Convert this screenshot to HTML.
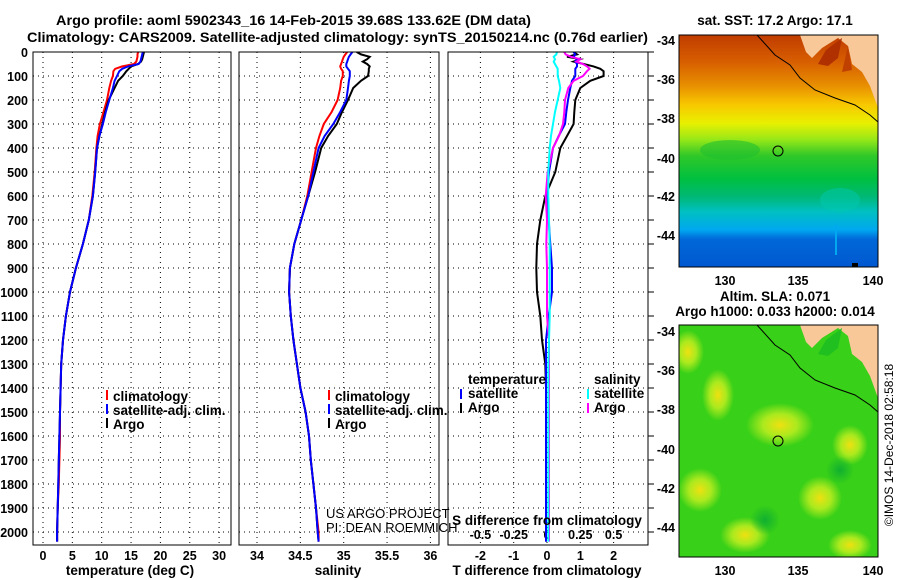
<!DOCTYPE html>
<html><head><meta charset="utf-8"><style>
html,body{margin:0;padding:0;background:#fff;}
svg{display:block;font-family:"Liberation Sans",Arial,sans-serif;}
.t{font-weight:bold;font-size:13.5px;fill:#000;}
.k{font-weight:bold;font-size:12.5px;fill:#000;}
.g{stroke:#000;stroke-width:1;stroke-dasharray:1 4;}
</style></head><body>
<svg id="chart" width="900" height="580" viewBox="0 0 900 580">
<defs>
<linearGradient id="sst" x1="0" y1="0" x2="0" y2="1">
<stop offset="0" stop-color="#c03c00"/><stop offset="0.12" stop-color="#d86000"/>
<stop offset="0.22" stop-color="#e89000"/><stop offset="0.30" stop-color="#f8c800"/>
<stop offset="0.38" stop-color="#e8f000"/><stop offset="0.45" stop-color="#98e818"/>
<stop offset="0.52" stop-color="#30c828"/><stop offset="0.62" stop-color="#00c040"/>
<stop offset="0.70" stop-color="#00b878"/><stop offset="0.76" stop-color="#00c0c0"/>
<stop offset="0.84" stop-color="#00a8f0"/><stop offset="0.88" stop-color="#0068d8"/>
<stop offset="1" stop-color="#0058d0"/></linearGradient>
<radialGradient id="yb"><stop offset="0" stop-color="#f0e010"/><stop offset="0.5" stop-color="#c8f020" stop-opacity="0.8"/><stop offset="1" stop-color="#c8f020" stop-opacity="0"/></radialGradient>
<radialGradient id="db"><stop offset="0" stop-color="#10b030"/><stop offset="1" stop-color="#10b030" stop-opacity="0"/></radialGradient>
<clipPath id="c1"><rect x="33" y="52" width="198" height="493"/></clipPath>
<clipPath id="c2"><rect x="239" y="52" width="200" height="493"/></clipPath>
<clipPath id="c3"><rect x="448" y="52" width="200" height="493"/></clipPath>
<clipPath id="m2"><rect x="679" y="325" width="199" height="232"/></clipPath>
</defs>

<text class="t" x="56" y="25" textLength="475" lengthAdjust="spacingAndGlyphs">Argo profile: aoml 5902343_16 14-Feb-2015 39.68S 133.62E (DM data)</text>
<text class="t" x="27" y="42" textLength="621" lengthAdjust="spacingAndGlyphs">Climatology: CARS2009. Satellite-adjusted climatology: synTS_20150214.nc (0.76d earlier)</text>

<g id="grid"></g>
<g id="marks"></g>

<rect x="33" y="52" width="198" height="493" fill="none" stroke="#000"/>
<rect x="239" y="52" width="200" height="493" fill="none" stroke="#000"/>
<rect x="448" y="52" width="200" height="493" fill="none" stroke="#000"/>

<text class="t" x="130" y="575" text-anchor="middle">temperature (deg C)</text>
<text class="t" x="338" y="575" text-anchor="middle">salinity</text>
<text class="t" x="547" y="575" text-anchor="middle">T difference from climatology</text>
<text class="t" x="547" y="525" text-anchor="middle">S difference from climatology</text>

<g>
<rect x="106" y="390" width="2" height="10" fill="#f00"/><text class="t" x="113" y="401">climatology</text>
<rect x="106" y="404" width="2" height="10" fill="#00f"/><text class="t" x="113" y="415">satellite-adj. clim.</text>
<rect x="106" y="418" width="2" height="10" fill="#000"/><text class="t" x="113" y="429">Argo</text>
</g>
<g>
<rect x="328" y="390" width="2" height="10" fill="#f00"/><text class="t" x="335" y="401">climatology</text>
<rect x="328" y="404" width="2" height="10" fill="#00f"/><text class="t" x="335" y="415">satellite-adj. clim.</text>
<rect x="328" y="418" width="2" height="10" fill="#000"/><text class="t" x="335" y="429">Argo</text>
</g>
<g>
<text class="t" x="468" y="384">temperature</text>
<rect x="460" y="389" width="2" height="10" fill="#00f"/><text class="t" x="468" y="398">satellite</text>
<rect x="460" y="403" width="2" height="10" fill="#000"/><text class="t" x="468" y="412">Argo</text>
<text class="t" x="594" y="384">salinity</text>
<rect x="587" y="389" width="2" height="10" fill="#0ff"/><text class="t" x="594" y="398">satellite</text>
<rect x="587" y="403" width="2" height="10" fill="#f0f"/><text class="t" x="594" y="412">Argo</text>
</g>
<text x="326" y="518" font-size="13" fill="#000">US ARGO PROJECT</text>
<text x="326" y="532" font-size="13" fill="#000">PI: DEAN ROEMMICH</text>

<!-- top map -->
<g>
<text class="t" x="775" y="25" text-anchor="middle">sat. SST: 17.2 Argo: 17.1</text>
<rect x="679" y="35" width="199" height="232" fill="url(#sst)"/>
<ellipse cx="730" cy="150" rx="30" ry="10" fill="#20c030" opacity="0.6"/>
<ellipse cx="840" cy="200" rx="20" ry="12" fill="#00c8b0" opacity="0.5"/>
<rect x="835" y="225" width="2" height="30" fill="#00a8f0"/>
<polygon points="800,35 806,52 812,58 822,48 838,38 848,46 852,64 862,72 870,86 878,108 878,35" fill="#f8c898"/>
<polygon points="818,64 826,50 842,38 838,58 828,66" fill="#b03000"/>
<polygon points="842,72 848,46 852,70" fill="#c04000"/>
<polyline points="757,35 775,55 790,65 800,78 815,90 835,98 855,105 870,115 878,122" fill="none" stroke="#000"/>
<rect x="852" y="263" width="6" height="4" fill="#000"/>
<circle cx="778" cy="151" r="5" fill="none" stroke="#000"/>
<rect x="679" y="35" width="199" height="232" fill="none" stroke="#000"/>
</g>
<g class="k">
<text x="675" y="45" text-anchor="end">-34</text><text x="675" y="84" text-anchor="end">-36</text>
<text x="675" y="123" text-anchor="end">-38</text><text x="675" y="163" text-anchor="end">-40</text>
<text x="675" y="201" text-anchor="end">-42</text><text x="675" y="240" text-anchor="end">-44</text>
<text x="725" y="285" text-anchor="middle">130</text><text x="798" y="285" text-anchor="middle">135</text><text x="873" y="285" text-anchor="middle">140</text>
</g>

<!-- bottom map -->
<g>
<text class="t" x="775" y="301" text-anchor="middle">Altim. SLA: 0.071</text>
<text class="t" x="775" y="316" text-anchor="middle">Argo h1000: 0.033 h2000: 0.014</text>
<g clip-path="url(#m2)">
<rect x="679" y="325" width="199" height="232" fill="#38d018"/>
<ellipse cx="688" cy="352" rx="16" ry="22" fill="url(#yb)"/>
<ellipse cx="718" cy="395" rx="16" ry="26" fill="url(#yb)"/>
<ellipse cx="780" cy="425" rx="34" ry="22" fill="url(#yb)"/>
<ellipse cx="850" cy="445" rx="18" ry="20" fill="url(#yb)"/>
<ellipse cx="700" cy="490" rx="22" ry="22" fill="url(#yb)"/>
<ellipse cx="820" cy="498" rx="22" ry="22" fill="url(#yb)"/>
<ellipse cx="745" cy="535" rx="25" ry="18" fill="url(#yb)"/>
<ellipse cx="850" cy="545" rx="22" ry="15" fill="url(#yb)"/>
<ellipse cx="765" cy="520" rx="15" ry="15" fill="url(#db)"/>
<ellipse cx="840" cy="470" rx="14" ry="14" fill="url(#db)"/>
<polygon points="800,325 806,342 812,348 822,338 838,328 848,336 852,354 862,362 870,376 878,398 878,325" fill="#f8c898"/>
<polygon points="818,354 826,340 842,328 838,348 828,356" fill="#20c020"/>
<polyline points="757,325 775,345 790,355 800,368 815,380 835,388 855,395 870,405 878,412" fill="none" stroke="#000"/>
</g>
<circle cx="778" cy="441" r="5" fill="none" stroke="#000"/>
<rect x="679" y="325" width="199" height="232" fill="none" stroke="#000"/>
</g>
<g class="k">
<text x="675" y="336" text-anchor="end">-34</text><text x="675" y="375" text-anchor="end">-36</text>
<text x="675" y="414" text-anchor="end">-38</text><text x="675" y="454" text-anchor="end">-40</text>
<text x="675" y="493" text-anchor="end">-42</text><text x="675" y="532" text-anchor="end">-44</text>
<text x="725" y="575" text-anchor="middle">130</text><text x="798" y="575" text-anchor="middle">135</text><text x="873" y="575" text-anchor="middle">140</text>
</g>
<text x="893" y="445" font-size="12" fill="#000" text-anchor="middle" transform="rotate(-90 893 445)">©IMOS 14-Dec-2018 02:58:18</text>
</svg>
<script>
const depths=[0,10,20,30,40,50,60,70,80,100,120,150,200,250,300,350,400,500,600,700,800,900,1000,1100,1200,1300,1400,1500,1600,1700,1800,1900,2000,2040];
const tArgo=[17.2,17.1,17.0,16.9,16.7,16.2,15.0,14.6,14.2,13.6,12.8,12.2,11.2,10.6,10.1,9.6,9.2,8.9,8.5,7.8,6.8,5.6,4.6,3.9,3.4,3.1,3.0,2.9,2.8,2.7,2.6,2.5,2.4,2.4];
const tSat=[17.0,16.9,16.8,16.7,16.6,16.3,14.5,13.5,13.0,12.6,12.2,11.9,11.3,10.7,10.2,9.6,9.2,8.9,8.5,7.8,6.8,5.6,4.6,3.9,3.4,3.1,3.0,2.9,2.8,2.7,2.6,2.5,2.4,2.4];
const tClim=[16.2,16.1,16.1,16.0,15.9,15.5,13.5,12.3,12.0,11.9,11.6,11.3,10.9,10.3,9.7,9.3,9.1,8.8,8.4,7.8,6.8,5.6,4.6,3.9,3.4,3.1,3.0,2.9,2.9,2.8,2.7,2.5,2.4,2.4];
const sArgo=[35.15,35.2,35.3,35.27,35.22,35.27,35.3,35.29,35.29,35.28,35.2,35.11,35.05,34.98,34.92,34.82,34.74,34.67,34.59,34.51,34.43,34.38,34.37,34.39,34.42,34.46,34.5,34.56,34.6,34.62,34.65,34.68,34.7,34.71];
const sSat=[35.1,35.08,35.06,35.05,35.04,35.03,35.03,35.05,35.07,35.07,35.06,35.05,35.03,34.96,34.88,34.78,34.71,34.65,34.59,34.51,34.43,34.38,34.37,34.39,34.42,34.46,34.5,34.56,34.6,34.62,34.65,34.68,34.7,34.71];
const sClim=[35.04,35.02,35.0,34.99,34.98,34.97,34.96,34.97,34.99,34.99,34.97,34.96,34.93,34.86,34.77,34.72,34.68,34.63,34.58,34.51,34.43,34.38,34.37,34.39,34.42,34.46,34.5,34.56,34.6,34.62,34.65,34.68,34.71,34.71];
const dTArgo=[0.8,0.9,0.6,1.0,0.8,1.1,1.4,1.6,1.7,1.7,1.3,1.0,0.85,0.82,0.8,0.6,0.4,0.25,-0.05,-0.2,-0.3,-0.32,-0.3,-0.2,-0.15,-0.05,-0.03,-0.03,-0.03,-0.03,-0.03,-0.03,-0.03,-0.03];
const dTSat=[0.8,0.85,0.8,0.9,0.85,0.9,0.9,0.85,0.85,0.85,0.75,0.7,0.63,0.58,0.54,0.35,0.18,0.06,0.0,0.05,0.1,0.15,0.15,0.05,-0.03,-0.03,-0.03,-0.03,-0.03,-0.03,-0.03,-0.03,-0.03,-0.03];
const dSSat=[0.075,0.07,0.05,0.06,0.05,0.06,0.07,0.08,0.08,0.08,0.09,0.1,0.08,0.06,0.045,0.03,0.02,0.01,0.01,0.015,0.02,0.02,0.02,0.02,0.015,0.01,0.01,0.01,0.01,0.01,0.01,0.01,0.01,0.01];
const dSArgo=[0.13,0.14,0.18,0.25,0.22,0.27,0.3,0.32,0.3,0.27,0.2,0.16,0.135,0.13,0.12,0.09,0.045,0.005,-0.01,0.0,-0.005,0.0,0.0,0.0,0.015,0.015,0.015,0.015,0.015,0.015,0.015,0.015,0.015,0.015];
const depthTicks=[0,100,200,300,400,500,600,700,800,900,1000,1100,1200,1300,1400,1500,1600,1700,1800,1900,2000];
const tTicks=[0,5,10,15,20,25,30];
const sTicks=[34,34.5,35,35.5,36];
const dTTicks=[-2,-1,0,1,2];
const dSTicks=[-0.5,-0.25,0,0.25,0.5];
const dSTickLabels=["-0.5","-0.25","0","0.25","0.5"];

const NS="http://www.w3.org/2000/svg";
const yD=d=>52+d*0.24;
const xT=t=>43+t*5.87;
const xS=s=>257+(s-34)*86.7;
const xDT=t=>547+t*33.3;
const xDS=s=>547+s*133.2;
const grid=document.getElementById('grid'), marks=document.getElementById('marks');
function mk(tag,attrs,parent){const e=document.createElementNS(NS,tag);for(const k in attrs)e.setAttribute(k,attrs[k]);parent.appendChild(e);return e;}
const panels=[[33,231],[239,439],[448,648]];
depthTicks.forEach(d=>{
  panels.forEach(p=>{const l=mk('line',{x1:p[0],x2:p[1],y1:yD(d),y2:yD(d),class:'g'},grid);
    
    });
  const t=mk('text',{x:28,y:yD(d)+5,'text-anchor':'end',class:'k'},grid);t.textContent=d;
  
  
  const tk=mk('line',{x1:648,x2:654,y1:yD(d),y2:yD(d),stroke:'#000'},grid);
  
  
});
function vgrid(ticks,fx,labels,ly){ticks.forEach((v,i)=>{
  const l=mk('line',{x1:fx(v),x2:fx(v),y1:52,y2:545,class:'g'},grid);
  
  
  const t=mk('text',{x:fx(v),y:ly,'text-anchor':'middle',class:'k'},grid);t.textContent=labels?labels[i]:v;
  
  });}
vgrid(tTicks,xT,null,560);vgrid(sTicks,xS,null,560);vgrid(dTTicks,xDT,null,560);
dSTicks.forEach((v,i)=>{const t=mk('text',{x:xDS(v),y:539,'text-anchor':'middle',class:'k'},grid);t.textContent=dSTickLabels[i];
  
  });
function line(vals,fx,color,clip,name){
  const pts=vals.map((v,i)=>fx(v).toFixed(1)+','+yD(depths[i]).toFixed(1)).join(' ');
  const p=mk('polyline',{points:pts,fill:'none',stroke:color,'stroke-width':2,'clip-path':'url(#'+clip+')'},marks);
  
  }
line(tClim,xT,'#f00','c1','temperature-climatology-line');
line(tArgo,xT,'#000','c1','temperature-argo-line');
line(tSat,xT,'#00f','c1','temperature-satellite-line');
line(sClim,xS,'#f00','c2','salinity-climatology-line');
line(sArgo,xS,'#000','c2','salinity-argo-line');
line(sSat,xS,'#00f','c2','salinity-satellite-line');
line(dTArgo,xDT,'#000','c3','t-diff-argo-line');
line(dTSat,xDT,'#00f','c3','t-diff-satellite-line');
line(dSArgo,xDS,'#f0f','c3','s-diff-argo-line');
line(dSSat,xDS,'#0ff','c3','s-diff-satellite-line');
</script>
</body></html>
